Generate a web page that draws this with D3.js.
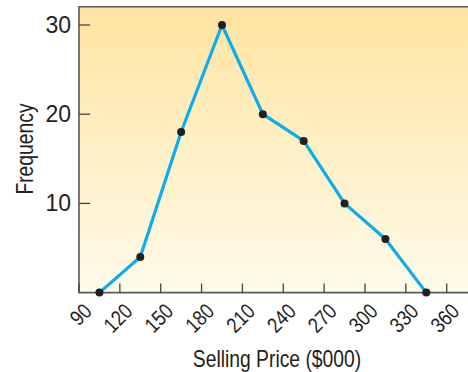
<!DOCTYPE html>
<html>
<head>
<meta charset="utf-8">
<script src="https://cdn.jsdelivr.net/npm/d3@7"></script>
<style>
  html, body { margin: 0; padding: 0; background: #fff; }
  svg { display: block; }
</style>
</head>
<body>
<div id="chart"></div>
<script>
// Frequency polygon of selling prices
const midpoints = [105, 135, 165, 195, 225, 255, 285, 315, 345];
const frequencies = [0, 4, 18, 30, 20, 17, 10, 6, 0];
const xTicks = [90, 120, 150, 180, 210, 240, 270, 300, 330, 360];
const yTicks = [10, 20, 30];

const W = 468, H = 372;
const plotLeft = 79, plotBottom = 292.6;

const svg = d3.select("#chart").append("svg")
    .attr("width", W)
    .attr("height", H);

const x = d3.scaleLinear().domain([90, 360]).range([plotLeft, 446.7]);
const y = d3.scaleLinear().domain([0, 30]).range([plotBottom, 25]);
const plotTop = y(32.05);
const plotRight = W;

// background gradient
const defs = svg.append("defs");
const grad = defs.append("linearGradient")
    .attr("id", "bg")
    .attr("x1", 0).attr("y1", 0).attr("x2", 0).attr("y2", 1);
grad.append("stop").attr("offset", "0%").attr("stop-color", "#fee4a1");
grad.append("stop").attr("offset", "100%").attr("stop-color", "#fffbea");

svg.append("rect")
    .attr("x", plotLeft)
    .attr("y", plotTop)
    .attr("width", plotRight - plotLeft)
    .attr("height", plotBottom - plotTop)
    .attr("fill", "url(#bg)");

// frame: top, left, bottom
svg.append("path")
    .attr("d", `M${plotRight},${plotTop}H${plotLeft}V${plotBottom}H${plotRight}`)
    .attr("fill", "none")
    .attr("stroke", "#595959")
    .attr("stroke-width", 1.6);

// y ticks (inward)
svg.selectAll(".ytick")
    .data(yTicks)
    .enter().append("line")
    .attr("x1", plotLeft).attr("x2", plotLeft + 11)
    .attr("y1", d => y(d)).attr("y2", d => y(d))
    .attr("stroke", "#444")
    .attr("stroke-width", 1.3);

svg.selectAll(".ylabel")
    .data(yTicks)
    .enter().append("text")
    .attr("x", plotLeft - 8)
    .attr("y", d => y(d))
    .attr("dy", "0.35em")
    .attr("text-anchor", "end")
    .style("font-family", "'Liberation Sans', Arial, sans-serif")
    .style("font-size", "23px")
    .style("fill", "#231f20")
    .text(d => d);

// x ticks (inward)
svg.selectAll(".xtick")
    .data(xTicks)
    .enter().append("line")
    .attr("x1", d => x(d)).attr("x2", d => x(d))
    .attr("y1", plotBottom).attr("y2", plotBottom - 9)
    .attr("stroke", "#444")
    .attr("stroke-width", 1.3);

svg.selectAll(".xlabel")
    .data(xTicks)
    .enter().append("text")
    .attr("text-anchor", "end")
    .attr("transform", d => `translate(${x(d) + 14},${plotBottom + 20}) rotate(-45) scale(0.84,1)`)
    .style("font-family", "'Liberation Sans', Arial, sans-serif")
    .style("font-size", "21.5px")
    .style("fill", "#231f20")
    .text(d => d);

// polygon line
const line = d3.line()
    .x((d, i) => x(midpoints[i]))
    .y(d => y(d));

svg.append("path")
    .datum(frequencies)
    .attr("d", line)
    .attr("fill", "none")
    .attr("stroke", "#0badea")
    .attr("stroke-width", 3.2)
    .attr("stroke-linejoin", "round");

svg.selectAll(".pt")
    .data(frequencies)
    .enter().append("circle")
    .attr("cx", (d, i) => x(midpoints[i]))
    .attr("cy", d => y(d))
    .attr("r", 4)
    .attr("fill", "#231f20");

// axis titles (condensed look)
svg.append("text")
    .attr("transform", "translate(277,367) scale(0.84,1)")
    .attr("text-anchor", "middle")
    .style("font-family", "'Liberation Sans', Arial, sans-serif")
    .style("font-size", "23px")
    .style("fill", "#231f20")
    .text("Selling Price ($000)");

svg.append("text")
    .attr("transform", "translate(33,149) rotate(-90) scale(0.84,1)")
    .attr("text-anchor", "middle")
    .style("font-family", "'Liberation Sans', Arial, sans-serif")
    .style("font-size", "23px")
    .style("fill", "#231f20")
    .text("Frequency");
</script>
</body>
</html>
